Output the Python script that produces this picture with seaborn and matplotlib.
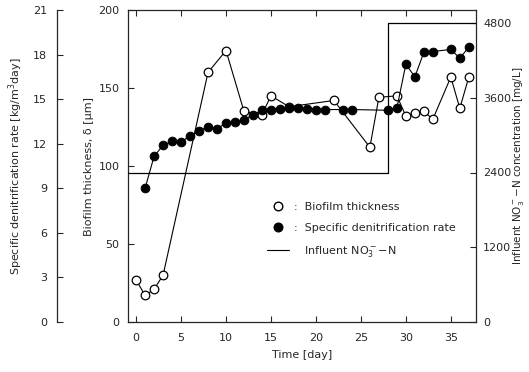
import matplotlib
matplotlib.use("Agg")
import matplotlib.pyplot as plt
from matplotlib.lines import Line2D
import seaborn as sns
import pandas as pd

sns.set_style("ticks")
plt.rcParams['font.family'] = ['DejaVu Sans']
plt.rcParams['font.size'] = 8

# Biofilm thickness [um]
bio_days = [0, 1, 2, 3, 8, 10, 12, 14, 15, 17, 22, 26, 27, 29, 30, 31, 32, 33, 35, 36, 37]
bio_thick = [27, 17, 21, 30, 160, 174, 135, 133, 145, 138, 142, 112, 144, 145, 132, 134, 135, 130, 157, 137, 157]

# Specific denitrification rate [kg/m3 day]
rate_days = list(range(1, 22)) + [23, 24, 28, 29, 30, 31, 32, 33, 35, 36, 37]
rate_vals = [9.0, 11.15, 11.9, 12.15, 12.1, 12.55, 12.85, 13.15, 13.0, 13.4, 13.45,
             13.6, 13.95, 14.25, 14.3, 14.35, 14.4, 14.4, 14.35, 14.3, 14.3,
             14.3, 14.3, 14.25, 14.4, 17.35, 16.5, 18.15, 18.2, 18.35, 17.75, 18.5]

# Influent NO3--N [mg/L]
inf_days = [-1, 28, 28, 38]
inf_conc = [2400, 2400, 4800, 4800]

x_ticks = [0, 5, 10, 15, 20, 25, 30, 35]
bio_ticks = [0, 50, 100, 150, 200]
rate_ticks = [0, 3, 6, 9, 12, 15, 18, 21]
inf_ticks = [0, 1200, 2400, 3600, 4800]

fig = plt.figure(figsize=(5.29, 3.72), dpi=100)
ax = fig.add_axes([128/529, 1-322/372, 348/529, 312/372])
ax_inf = ax.twinx()
ax_rate = ax.twinx()

bio_df = pd.DataFrame({"day": bio_days, "v": bio_thick})
rate_df = pd.DataFrame({"day": rate_days, "v": rate_vals})
inf_df = pd.DataFrame({"day": inf_days, "v": inf_conc})

sns.lineplot(data=bio_df, x="day", y="v", ax=ax, color="black", lw=0.8, sort=False,
             estimator=None, marker="o", markersize=6.2, markerfacecolor="white",
             markeredgecolor="black", markeredgewidth=0.9)
sns.lineplot(data=inf_df, x="day", y="v", ax=ax_inf, color="black", lw=0.9, sort=False,
             estimator=None)
sns.lineplot(data=rate_df, x="day", y="v", ax=ax_rate, color="black", lw=0.8, sort=False,
             estimator=None, marker="o", markersize=6.2, markerfacecolor="black",
             markeredgecolor="black")

ax.set_xlim(-0.9, 37.8)
ax.set_ylim(0, 200)
ax_rate.set_ylim(0, 21)
ax_inf.set_ylim(0, 4800 * 312 / 299)

ax.set_xticks(x_ticks)
ax.set_yticks(bio_ticks)
ax_rate.set_yticks(rate_ticks)
ax_inf.set_yticks(inf_ticks)

ax.tick_params(axis="both", direction="in", length=4, width=0.8, top=True, labelsize=8, pad=6)
ax.tick_params(axis="x", pad=8)
ax_inf.tick_params(axis="y", direction="in", length=4, width=0.8, labelsize=8, pad=5)
ax_rate.tick_params(axis="y", direction="in", length=4, width=0.8, labelsize=8, pad=7,
                    left=True, labelleft=True, right=False, labelright=False)

ax.spines["right"].set_visible(False)
for s in ["left", "top", "bottom"]:
    ax_inf.spines[s].set_visible(False)
for s in ["right", "top", "bottom"]:
    ax_rate.spines[s].set_visible(False)
ax_rate.spines["left"].set_visible(True)
ax_rate.spines["left"].set_position(("axes", (57 - 128) / 348))
ax_rate.yaxis.set_label_position("left")
for a in (ax, ax_inf, ax_rate):
    for sp in a.spines.values():
        sp.set_linewidth(0.9)

ax.set_xlabel("Time [day]", fontsize=8, labelpad=5)
ax.set_ylabel("Biofilm thickness, δ [μm]", fontsize=8, labelpad=3)
ax_rate.set_ylabel("Specific denitrification rate [kg/m$^3$day]", fontsize=8, labelpad=6)
ax_inf.set_ylabel("Influent NO$_3^-$$-$N concentration [mg/L]", fontsize=7.5, labelpad=0,
                  rotation=90)

handles = [
    Line2D([], [], ls="none", marker="o", markersize=6.2, markerfacecolor="white",
           markeredgecolor="black"),
    Line2D([], [], ls="none", marker="o", markersize=6.2, markerfacecolor="black",
           markeredgecolor="black"),
    Line2D([], [], color="black", lw=0.8),
]
labels = [":  Biofilm thickness", ":  Specific denitrification rate", "   Influent NO$_3^-$$-$N"]
ax_rate.legend(handles, labels, loc="upper left", bbox_to_anchor=(257/529, 1-192/372),
               bbox_transform=fig.transFigure, frameon=False, fontsize=8,
               labelspacing=1.0, handlelength=2.0, handletextpad=0.4)

fig.savefig("out.png", dpi=100)
